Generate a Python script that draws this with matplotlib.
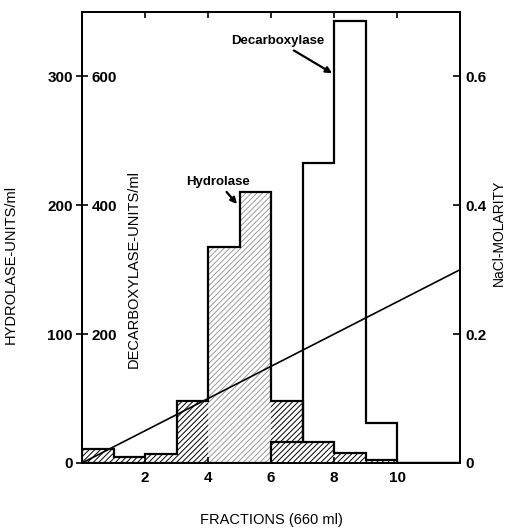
import matplotlib
matplotlib.use('Agg')
import matplotlib.pyplot as plt
from matplotlib.ticker import FuncFormatter
import numpy as np

plt.rcParams['font.family'] = ['Liberation Sans', 'DejaVu Sans']
plt.rcParams['hatch.linewidth'] = 0.7

# fraction edges (one bin per fraction)
edges = np.arange(0, 13)

# hydrolase units/ml per fraction (hatched histogram, left scale)
hydrolase = [11, 5, 7, 48, 168, 210, 48, 16, 8, 2, 0, 0]
# decarboxylase units/ml per fraction (open histogram)
decarboxylase = [0, 0, 0, 0, 0, 0, 33, 466, 686, 62, 0, 0]
# NaCl gradient
nacl_x = [0, 12]
nacl_m = [0, 0.3]

hyd_ticks = [0, 100, 200, 300]
dec_ticks = [200, 400, 600]
nacl_ticks = [0, 0.2, 0.4, 0.6]
x_ticks = [2, 4, 6, 8, 10]

fig = plt.figure(figsize=(5.12, 5.29), dpi=100)
ax = fig.add_axes([82/512, 66/529, 378/512, 451/529])

# hatch colours: faded in the middle of the peak as in the print
hatch_cols = ['black'] * 4 + ['#999999'] * 2 + ['black'] * 6
ax.bar(edges[:-1], hydrolase, width=1, align='edge', color='white',
       edgecolor=hatch_cols, hatch='//////', linewidth=0)
ax.stairs(hydrolase, edges, color='black', lw=1.6)
ax.set_xlim(0, 12)
ax.set_ylim(0, 350)

ax_d = ax.twinx()
ax_d.stairs(decarboxylase, edges, color='black', lw=1.6)
ax_d.set_ylim(0, 700)

ax_n = ax.twinx()
ax_n.plot(nacl_x, nacl_m, color='black', lw=1.2)
ax_n.set_ylim(0, 0.7)

for a in (ax, ax_d, ax_n):
    for s in a.spines.values():
        s.set_linewidth(1.4)

# x axis
ax.set_xticks(x_ticks)
ax.tick_params(axis='x', direction='in', length=4, width=1.2, top=True,
               labelsize=11, pad=6)
for t in ax.get_xticklabels():
    t.set_fontweight('bold')
ax.set_xlabel('FRACTIONS (660 ml)', fontsize=10.5, labelpad=20)

# hydrolase scale (left, labels outside)
ax.set_yticks(hyd_ticks)
ax.tick_params(axis='y', direction='inout', length=9, width=1.2,
               labelsize=11, pad=2)
for t in ax.get_yticklabels():
    t.set_fontweight('bold')
ax.set_ylabel('HYDROLASE-UNITS/ml', fontsize=10.5)
ax.yaxis.set_label_coords(-0.17, 0.44)

# decarboxylase scale (left, labels inside)
ax_d.yaxis.tick_left()
ax_d.set_yticks(dec_ticks)
ax_d.tick_params(axis='y', length=0, labelsize=11, pad=-7)
for t in ax_d.get_yticklabels():
    t.set_fontweight('bold')
    t.set_horizontalalignment('left')
ax_d.yaxis.set_label_position('left')
ax_d.set_ylabel('DECARBOXYLASE-UNITS/ml', fontsize=10.5)
ax_d.yaxis.set_label_coords(0.155, 0.43)

# NaCl scale (right)
ax_n.set_yticks(nacl_ticks)
ax_n.yaxis.set_major_formatter(FuncFormatter(lambda v, p: '0' if v == 0 else f'{v:.1f}'))
ax_n.tick_params(axis='y', direction='in', length=5, width=1.2,
                 labelsize=11, pad=4)
for t in ax_n.get_yticklabels():
    t.set_fontweight('bold')
ax_n.set_ylabel('NaCl-MOLARITY', fontsize=10)
ax_n.yaxis.set_label_coords(1.085, 0.51)

arrow = dict(arrowstyle='-|>', color='black', lw=1.6, mutation_scale=9,
             shrinkA=1, shrinkB=0)
ax.annotate('Hydrolase', xy=(4.92, 201), xytext=(4.32, 218),
            ha='center', va='center', fontsize=9.5, fontweight='bold',
            arrowprops=arrow)
ax_d.annotate('Decarboxylase', xy=(7.94, 605), xytext=(6.22, 655),
              ha='center', va='center', fontsize=9.5, fontweight='bold',
              arrowprops=arrow)

fig.savefig('out.png', dpi=100)
